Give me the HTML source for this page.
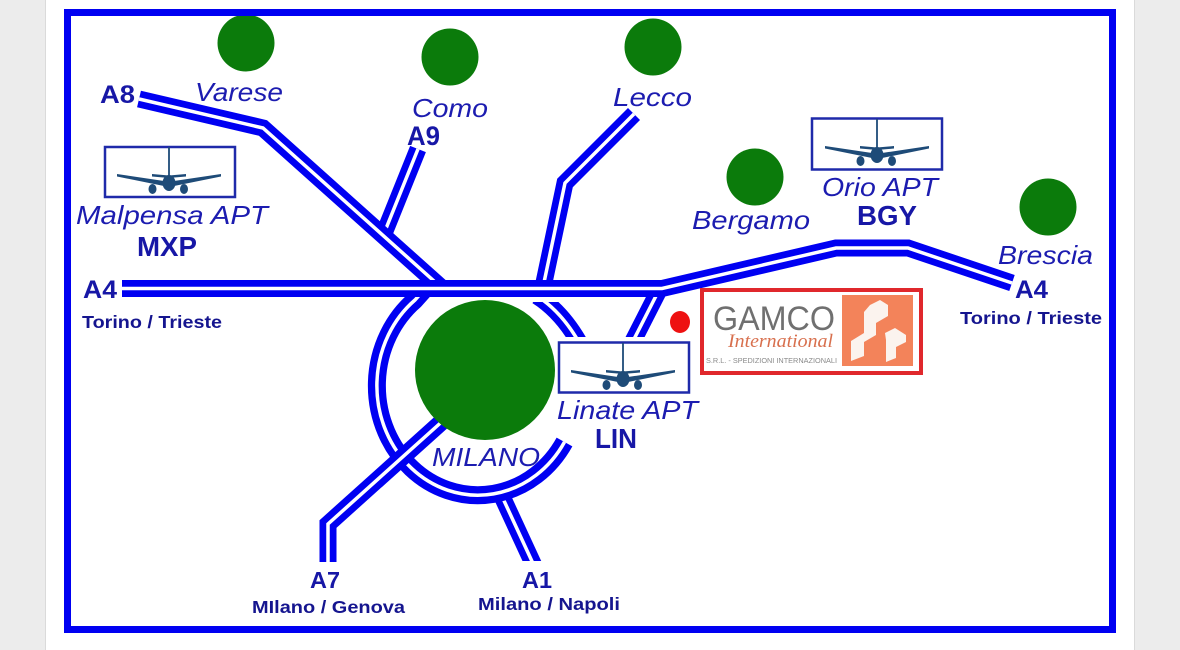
<!DOCTYPE html>
<html><head><meta charset="utf-8">
<style>
html,body{margin:0;padding:0;background:#ececec;width:1180px;height:650px;overflow:hidden;}
svg{display:block;}
text{font-family:"Liberation Sans",Arial,sans-serif;}
.it{font-style:italic;font-size:26px;fill:#1c1cb0;}
.bd{font-weight:bold;fill:#1717a6;}
.sm{font-weight:bold;font-size:17.5px;fill:#15158f;}
</style></head><body>
<svg width="1180" height="650" viewBox="0 0 1180 650" xmlns="http://www.w3.org/2000/svg">
<defs>
 <g id="plane">
  <line x1="65" y1="0" x2="65" y2="30" stroke="#1e4b78" stroke-width="1.8"/>
  <polygon points="13,27 60,34 60,39 13,29.5" fill="#1e4b78"/>
  <polygon points="117,27 70,34 70,39 117,29.5" fill="#1e4b78"/>
  <polygon points="48,27 65,28.5 82,27 82,29.5 65,31 48,29.5" fill="#1e4b78"/>
  <ellipse cx="65" cy="36" rx="6.5" ry="8" fill="#1e4b78"/>
  <ellipse cx="48.5" cy="42" rx="4" ry="5" fill="#1e4b78"/>
  <ellipse cx="80" cy="42" rx="4" ry="5" fill="#1e4b78"/>
 </g>
 <clipPath id="cTR"><rect x="500" y="302" width="120" height="35"/></clipPath>
 <clipPath id="cLin"><rect x="600" y="270" width="100" height="67"/></clipPath>
 <clipPath id="cA1"><rect x="480" y="470" width="80" height="91"/></clipPath>
</defs>

<rect width="1180" height="650" fill="#ececec"/>
<rect x="45" y="0" width="1" height="650" fill="#dadada"/>
<rect x="46" y="0" width="1088" height="650" fill="#ffffff"/>
<rect x="1134" y="0" width="1" height="650" fill="#dadada"/>

<g fill="none" stroke-linejoin="miter" stroke-miterlimit="10">
 <!-- A1 -->
 <g clip-path="url(#cA1)">
  <path d="M500 492 L536 570" stroke="#0000f2" stroke-width="17"/>
  <path d="M500 492 L536 570" stroke="#fff" stroke-width="3.5"/>
 </g>
 <!-- ring -->
 <path d="M564.5 442 A101 109.5 0 1 1 415 300 L423 291" stroke="#0000f2" stroke-width="18"/>
 <path d="M564.5 442 A101 109.5 0 1 1 415 300 L423 291" stroke="#fff" stroke-width="3.5"/>
 <!-- ring top-right piece -->
 <g clip-path="url(#cTR)">
  <path d="M537 296 Q562 312 580 344" stroke="#0000f2" stroke-width="17"/>
  <path d="M537 296 Q562 312 580 344" stroke="#fff" stroke-width="3.5"/>
 </g>
 <!-- A7 -->
 <path d="M328 562 L328 524 L446 418" stroke="#0000f2" stroke-width="17"/>
 <path d="M328 562 L328 524 L446 418" stroke="#fff" stroke-width="3.5"/>
 <!-- Linate branch -->
 <g clip-path="url(#cLin)">
  <path d="M630 347 L658 292" stroke="#0000f2" stroke-width="17"/>
  <path d="M630 347 L658 292" stroke="#fff" stroke-width="3.5"/>
 </g>
 <!-- Lecco -->
 <path d="M634 114 L565 183 L542 292" stroke="#0000f2" stroke-width="17"/>
 <path d="M634 114 L565 183 L542 292" stroke="#fff" stroke-width="3.5"/>
 <!-- A9 -->
 <path d="M418 149 L383 236" stroke="#0000f2" stroke-width="17"/>
 <path d="M418 149 L383 236" stroke="#fff" stroke-width="3.5"/>
 <!-- A8 -->
 <path d="M139 99 L263 128 L444 290" stroke="#0000f2" stroke-width="17"/>
 <path d="M139 99 L263 128 L444 290" stroke="#fff" stroke-width="3.5"/>
 <!-- A4 -->
 <path d="M122 288.5 L662 288.5 L836 248 L908 248 L1012 283" stroke="#0000f2" stroke-width="17"/>
 <path d="M122 288.5 L662 288.5 L836 248 L908 248 L1012 283" stroke="#fff" stroke-width="3.5"/>
</g>

<!-- cities -->
<g fill="#0b7b0b">
 <circle cx="485" cy="370" r="70"/>
 <circle cx="246" cy="43" r="28.5"/>
 <circle cx="450" cy="57" r="28.5"/>
 <circle cx="653" cy="47" r="28.5"/>
 <circle cx="755" cy="177" r="28.5"/>
 <circle cx="1048" cy="207" r="28.5"/>
</g>

<!-- airports -->
<rect x="105" y="147" width="130" height="50" fill="#fff" stroke="#1f2aaa" stroke-width="2.5"/>
<use href="#plane" x="104" y="147"/>
<rect x="812" y="118.5" width="130" height="51" fill="#fff" stroke="#1f2aaa" stroke-width="2.5"/>
<use href="#plane" x="812" y="119"/>
<rect x="559" y="342.5" width="130" height="50" fill="#fff" stroke="#1f2aaa" stroke-width="2.5"/>
<use href="#plane" x="558" y="343"/>

<!-- red dot -->
<ellipse cx="680" cy="322" rx="10" ry="11" fill="#ee1111"/>

<!-- GAMCO logo -->
<rect x="702" y="290" width="219" height="83" fill="#fff" stroke="#e0282c" stroke-width="4"/>
<text x="713" y="330" font-size="34" fill="#707070" textLength="122" lengthAdjust="spacingAndGlyphs">GAMCO</text>
<text x="728" y="347" font-size="19" fill="#d8704e" font-style="italic" style="font-family:'Liberation Serif',serif" textLength="105" lengthAdjust="spacingAndGlyphs">International</text>
<text x="706" y="363" font-size="7" fill="#8a8a8a" textLength="131" lengthAdjust="spacingAndGlyphs">S.R.L. - SPEDIZIONI INTERNAZIONALI</text>
<rect x="842" y="295" width="71" height="71" fill="#f3835a"/>
<polygon points="870,305 880,300 888,305 888,316 876,323 876,335 864,342 864,356 851,361 851,341 864,333 864,312" fill="#fbf3ee"/>
<polygon points="885,333 895,328 906,335 906,342 896,347 896,358 886,362 886,340" fill="#fbf3ee"/>

<!-- italic labels -->
<text class="it" x="195" y="101" textLength="88" lengthAdjust="spacingAndGlyphs">Varese</text>
<text class="it" x="412" y="117" textLength="76" lengthAdjust="spacingAndGlyphs">Como</text>
<text class="it" x="613" y="106" textLength="79" lengthAdjust="spacingAndGlyphs">Lecco</text>
<text class="it" x="692" y="229" textLength="118" lengthAdjust="spacingAndGlyphs">Bergamo</text>
<text class="it" x="822" y="196" textLength="116" lengthAdjust="spacingAndGlyphs">Orio APT</text>
<text class="it" x="998" y="264" textLength="95" lengthAdjust="spacingAndGlyphs">Brescia</text>
<text class="it" x="76" y="224" textLength="192" lengthAdjust="spacingAndGlyphs">Malpensa APT</text>
<text class="it" x="557" y="419" textLength="141" lengthAdjust="spacingAndGlyphs">Linate APT</text>
<text class="it" x="432" y="466" font-size="27" textLength="108" lengthAdjust="spacingAndGlyphs">MILANO</text>

<!-- bold labels -->
<text class="bd" x="100" y="103" font-size="25" textLength="35" lengthAdjust="spacingAndGlyphs">A8</text>
<text class="bd" x="407" y="145" font-size="27" textLength="33" lengthAdjust="spacingAndGlyphs">A9</text>
<text class="bd" x="137" y="256" font-size="28" textLength="60" lengthAdjust="spacingAndGlyphs">MXP</text>
<text class="bd" x="857" y="225" font-size="28" textLength="60" lengthAdjust="spacingAndGlyphs">BGY</text>
<text class="bd" x="595" y="448" font-size="28" textLength="42" lengthAdjust="spacingAndGlyphs">LIN</text>
<text class="bd" x="83" y="298" font-size="25" textLength="34" lengthAdjust="spacingAndGlyphs">A4</text>
<text class="bd" x="1015" y="298" font-size="25" textLength="33" lengthAdjust="spacingAndGlyphs">A4</text>
<text class="bd" x="310" y="588" font-size="23" textLength="30" lengthAdjust="spacingAndGlyphs">A7</text>
<text class="bd" x="522" y="588" font-size="23" textLength="30" lengthAdjust="spacingAndGlyphs">A1</text>

<!-- small labels -->
<text class="sm" x="82" y="328" textLength="140" lengthAdjust="spacingAndGlyphs">Torino / Trieste</text>
<text class="sm" x="960" y="324" textLength="142" lengthAdjust="spacingAndGlyphs">Torino / Trieste</text>
<text class="sm" x="252" y="613" textLength="153" lengthAdjust="spacingAndGlyphs">MIlano / Genova</text>
<text class="sm" x="478" y="610" textLength="142" lengthAdjust="spacingAndGlyphs">Milano / Napoli</text>

<!-- frame -->
<rect x="67.5" y="12.5" width="1045" height="617" fill="none" stroke="#0000f2" stroke-width="7"/>
</svg>
</body></html>
